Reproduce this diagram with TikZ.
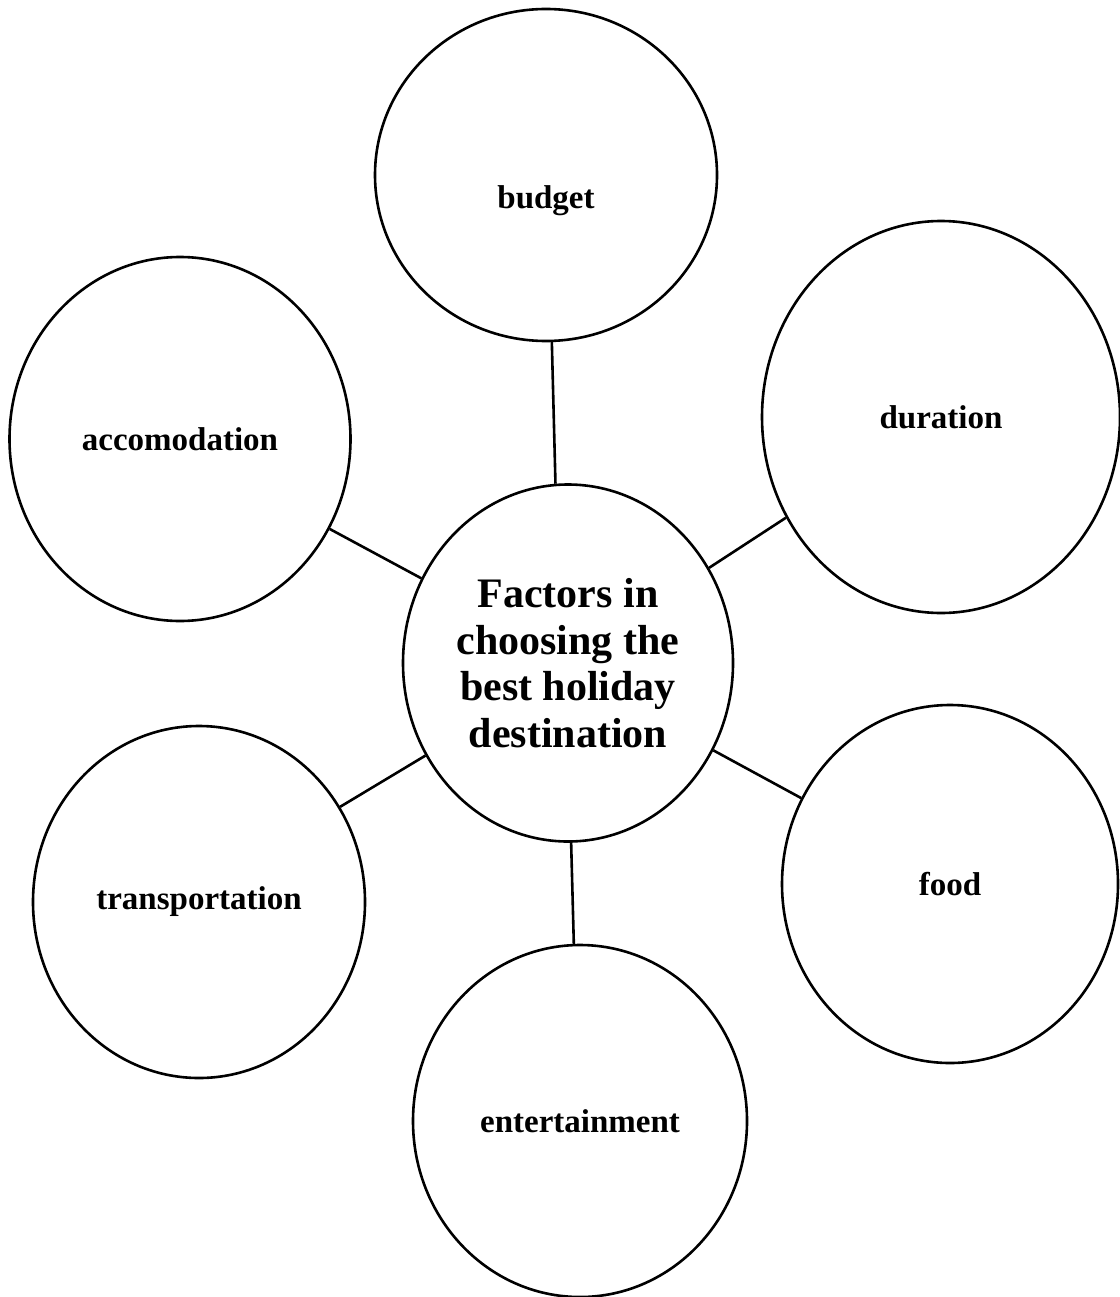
\documentclass[tikz,border=0pt]{standalone}
\usepackage{fontspec}
\setmainfont{Liberation Serif}
\usetikzlibrary{shapes.geometric}

\begin{document}
\begin{tikzpicture}[x=1pt,y=-1pt,line width=2.6pt]
\tikzstyle{bubble}=[ellipse,draw=black,inner sep=0pt,text=black,font=\bfseries\fontsize{33}{40}\selectfont]
\useasboundingbox (0,0) rectangle (1119,1297);
\node[bubble,minimum width=330,minimum height=357,align=center,font=\bfseries\fontsize{42}{46.5}\selectfont] (hub) at (568,663) {Factors in\\choosing the\\best holiday\\destination};
\node[bubble,minimum width=342,minimum height=332,label={[yshift=-26,font=\bfseries\fontsize{33}{40}\selectfont]center:budget}] (budget) at (546,175) {};
\node[bubble,minimum width=341,minimum height=364] (accom) at (180,439) {accomodation};
\node[bubble,minimum width=358,minimum height=392] (duration) at (941,417) {duration};
\node[bubble,minimum width=332,minimum height=352] (transport) at (199,902) {transportation};
\node[bubble,minimum width=336,minimum height=358] (food) at (950,884) {food};
\node[bubble,minimum width=334,minimum height=352] (entertain) at (580,1121) {entertainment};
\path (hub.94)edge(budget.-88)
      (hub.150)edge(accom.-31)
      (hub.34)edge(duration.-147)
      (hub.-147)edge(transport.34)
      (hub.-31)edge(food.150)
      (hub.-89)edge(entertain.92);
\end{tikzpicture}
\end{document}
